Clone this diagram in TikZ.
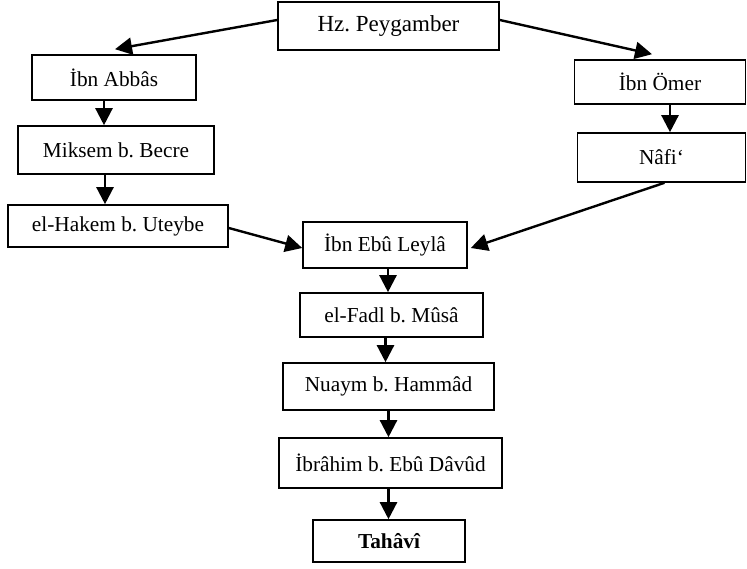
\documentclass[tikz,border=0pt]{standalone}
\usepackage{fontspec}
\setmainfont{Liberation Serif}
\usetikzlibrary{arrows.meta}
\frenchspacing

\begin{document}
\begin{tikzpicture}[x=1pt,y=-1pt,
  box/.style={draw,line width=1.6pt,inner sep=0pt,font=\fontsize{21.3}{25}\selectfont},
  arr/.style={line width=2.4pt,-{Triangle[length=17pt,width=17pt]}}]
\useasboundingbox (0,0) rectangle (747,569);
% boxes
\node[box,minimum width=221pt,minimum height=48pt,font=\fontsize{23}{27}\selectfont] (peygamber) at (388.5,26) {Hz. Peygamber};
\node[box,minimum width=164pt,minimum height=45pt] (abbas) at (114,77.5) {İbn Abbâs};
\node[box,minimum width=196pt,minimum height=48pt] (miksem) at (116,150) {Miksem b. Becre};
\node[box,minimum width=220pt,minimum height=42pt] (hakem) at (118,226) {el-Hakem b. Uteybe};
\node[box,minimum width=171pt,minimum height=44pt] (omer) at (660,82) {İbn Ömer};
\node[box,minimum width=168pt,minimum height=49pt] (nafi) at (661.5,157.5) {Nâfi‘};
\node[box,minimum width=164pt,minimum height=46pt] (leyla) at (385,245) {İbn Ebû Leylâ};
\node[box,minimum width=183pt,minimum height=44pt] (fadl) at (391.5,315) {el-Fadl b. Mûsâ};
\node[box,minimum width=211pt,minimum height=47pt] (nuaym) at (388.5,386.5) {Nuaym b. Hammâd};
\node[box,minimum width=223pt,minimum height=50pt] (ibrahim) at (390.5,463) {İbrâhim b. Ebû Dâvûd};
\node[box,minimum width=152pt,minimum height=42pt] (tahavi) at (389,541) {\bfseries Tahâvî};
% arrows
\draw[arr] ([yshift=6pt]peygamber.west) -- ([xshift=1pt,yshift=5pt]abbas.north);
\draw[arr] ([yshift=6pt]peygamber.east) -- ([xshift=-8pt,yshift=5pt]omer.north);
\draw[arr] ([xshift=-10pt]abbas.south) -- ([xshift=-10pt]abbas.south |- miksem.north);
\draw[arr] ([xshift=-11pt]miksem.south) -- ([xshift=-11pt]miksem.south |- hakem.north);
\draw[arr] ([xshift=10pt]omer.south) -- ([xshift=10pt]omer.south |- nafi.north);
\draw[arr] ([xshift=3pt]nafi.south) -- ([xshift=3pt,yshift=-3pt]leyla.east);
\draw[arr] ([yshift=-2pt]hakem.east) -- ([yshift=-3pt]leyla.west);
\draw[arr] ([xshift=3pt]leyla.south) -- ([xshift=3pt]leyla.south |- fadl.north);
\draw[arr] ([xshift=-6pt]fadl.south) -- ([xshift=-6pt]fadl.south |- nuaym.north);
\draw[arr] (nuaym.south) -- (nuaym.south |- ibrahim.north);
\draw[arr] ([xshift=-2pt]ibrahim.south) -- ([xshift=-2pt]ibrahim.south |- tahavi.north);
\end{tikzpicture}
\end{document}
